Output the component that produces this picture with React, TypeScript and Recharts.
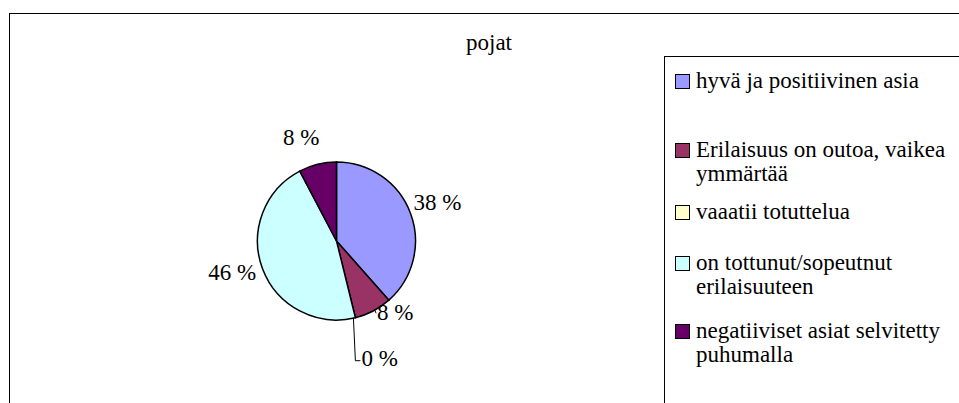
import { PieChart, Pie, Cell, Legend } from 'recharts';

const categories = [
    'hyvä ja positiivinen asia',
    'Erilaisuus on outoa, vaikea ymmärtää',
    'vaaatii totuttelua',
    'on tottunut/sopeutnut erilaisuuteen',
    'negatiiviset asiat selvitetty puhumalla',
];
const counts = [5, 1, 0, 6, 1];
const colors = ['#9999FF', '#993366', '#FFFFCC', '#CCFFFF', '#660066'];
const title = 'pojat';

const data = categories.map((name, i) => ({ name, value: counts[i] }));
const total = counts.reduce((a, b) => a + b, 0);

const FONT = '"Times New Roman", Tinos, "Liberation Serif", Times, serif';
const FS = 23;
const RAD = Math.PI / 180;

// label nudges (angle offset in degrees, radius offset from the pie edge)
const labelPlace = [
    { da: 0, dr: 29, anchor: 'middle' },
    { da: 2, dr: 3, anchor: 'start' },
    { da: 0, dr: 0, anchor: 'start' },
    { da: -4, dr: 30, anchor: 'middle' },
    { da: 5, dr: 30, anchor: 'middle' },
];
// legend item tops inside the legend box
const legendTops = [12, 81, 143, 194, 262];

const polar = (cx: number, cy: number, r: number, a: number) => ({
    x: cx + r * Math.cos(-a * RAD),
    y: cy + r * Math.sin(-a * RAD),
});

function renderLabel(props: any) {
    const { cx, cy, midAngle, outerRadius, index, value } = props;
    const p = labelPlace[index];
    const txt = `${Math.round((value / total) * 100)} %`;
    if (index === 2) {
        const e = polar(cx, cy, outerRadius, midAngle);
        const bottom = e.y + 43;
        return (
            <g key={`l${index}`}>
                <polyline points={`${e.x - 2},${e.y} ${e.x},${bottom} ${e.x + 5},${bottom}`} fill="none" stroke="#000" strokeWidth={1} />
                <text x={e.x + 6} y={bottom - 2} textAnchor="start" dominantBaseline="central" fill="#000" fontFamily={FONT} fontSize={FS}>{txt}</text>
            </g>
        );
    }
    const pos = polar(cx, cy, outerRadius + p.dr, midAngle + p.da);
    if (index === 1) {
        const e = polar(cx, cy, outerRadius, midAngle + 1);
        return (
            <g key={`l${index}`}>
                <line x1={e.x} y1={e.y - 1} x2={pos.x - 1} y2={pos.y + 1} stroke="#000" strokeWidth={1} />
                <text x={pos.x} y={pos.y} textAnchor="start" dominantBaseline="central" fill="#000" fontFamily={FONT} fontSize={FS}>{txt}</text>
            </g>
        );
    }
    return (
        <text key={`l${index}`} x={pos.x} y={pos.y} textAnchor={p.anchor as any} dominantBaseline="central" fill="#000" fontFamily={FONT} fontSize={FS}>{txt}</text>
    );
}

function LegendBox() {
    return (
        <div style={{ position: 'relative', width: 300, height: 360, border: '1px solid #000', boxSizing: 'border-box', fontFamily: FONT, fontSize: FS, lineHeight: '24px', color: '#000' }}>
            {categories.map((name, i) => (
                <div key={name} style={{ position: 'absolute', left: 10, top: legendTops[i], display: 'flex', alignItems: 'flex-start' }}>
                    <div style={{ width: 13, height: 13, marginTop: 5, background: colors[i], border: '1px solid #000', flexShrink: 0 }} />
                    <div style={{ marginLeft: 6, width: 262, fontFamily: FONT }}>{name}</div>
                </div>
            ))}
        </div>
    );
}

export default function App() {
    return (
        <div style={{ position: 'absolute', left: 0, top: 0, width: 959, height: 403, overflow: 'hidden', background: '#fff', fontFamily: FONT }}>
            <style>{`#root, #root * { font-family: ${FONT} !important; }`}</style>
            <div style={{ position: 'absolute', left: 9, top: 13, width: 1000, height: 500, borderTop: '1.5px solid #000', borderLeft: '1.5px solid #000' }} />
            <PieChart width={959} height={403} margin={{ top: 0, right: 0, bottom: 0, left: 0 }} style={{ position: 'absolute', left: 0, top: 0 }}>
                <text x={489} y={42} textAnchor="middle" dominantBaseline="central" fill="#000" fontFamily={FONT} fontSize={FS}>{title}</text>
                <Pie
                    data={data}
                    dataKey="value"
                    nameKey="name"
                    cx={336.5}
                    cy={241}
                    outerRadius={79}
                    startAngle={90}
                    endAngle={-270}
                    stroke="#000"
                    strokeWidth={1.5}
                    label={renderLabel}
                    labelLine={false}
                    isAnimationActive={false}
                >
                    {data.map((d, i) => (
                        <Cell key={d.name} fill={colors[i]} />
                    ))}
                </Pie>
                <Legend
                    content={() => <LegendBox />}
                    wrapperStyle={{ position: 'absolute', left: 664, top: 56, width: 300, height: 360 }}
                />
            </PieChart>
        </div>
    );
}
